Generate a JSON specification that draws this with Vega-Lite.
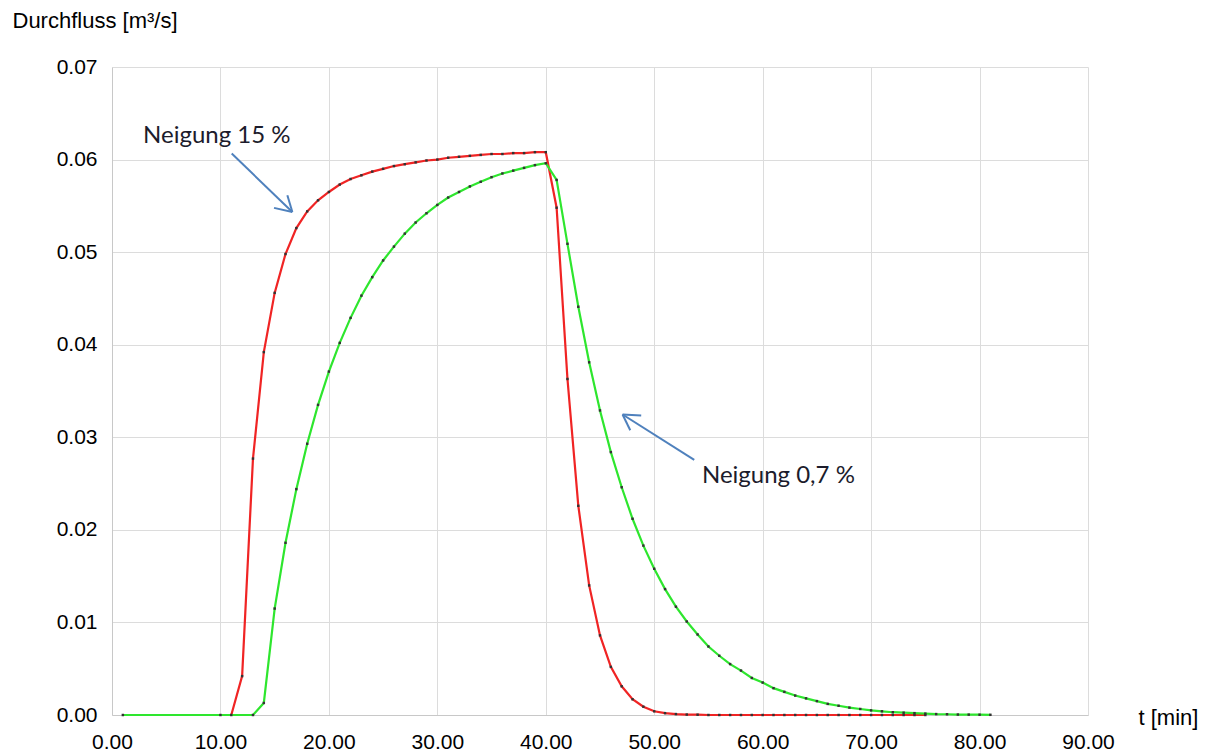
{
  "$schema": "https://vega.github.io/schema/vega-lite/v6.json",
  "width": 976,
  "height": 648,
  "autosize": {"type": "none"},
  "padding": {"left": 112, "top": 67, "right": 122, "bottom": 38},
  "background": "white",
  "config": {
    "view": {"stroke": null},
    "axis": {
      "labelFont": "Liberation Sans",
      "labelFontSize": 21,
      "labelColor": "#000000",
      "titleFont": "Liberation Sans",
      "titleFontSize": 22,
      "titleFontWeight": "normal",
      "titleColor": "#000000",
      "gridColor": "#dcdcdc",
      "gridWidth": 1,
      "domainColor": "#c8c8c8",
      "domainWidth": 1,
      "ticks": false,
      "tickSize": 0
    }
  },
  "datasets": {
    "flow": [
      {"s": "15", "t": 11, "q": 0},
      {"s": "15", "t": 12, "q": 0.0042},
      {"s": "15", "t": 13, "q": 0.0277},
      {"s": "15", "t": 14, "q": 0.0392},
      {"s": "15", "t": 15, "q": 0.0456},
      {"s": "15", "t": 16, "q": 0.0498},
      {"s": "15", "t": 17, "q": 0.0526},
      {"s": "15", "t": 18, "q": 0.0544},
      {"s": "15", "t": 19, "q": 0.0556},
      {"s": "15", "t": 20, "q": 0.0565},
      {"s": "15", "t": 21, "q": 0.0573},
      {"s": "15", "t": 22, "q": 0.0579},
      {"s": "15", "t": 23, "q": 0.0583},
      {"s": "15", "t": 24, "q": 0.0587},
      {"s": "15", "t": 25, "q": 0.0590},
      {"s": "15", "t": 26, "q": 0.0593},
      {"s": "15", "t": 27, "q": 0.0595},
      {"s": "15", "t": 28, "q": 0.0597},
      {"s": "15", "t": 29, "q": 0.0599},
      {"s": "15", "t": 30, "q": 0.0600},
      {"s": "15", "t": 31, "q": 0.0602},
      {"s": "15", "t": 32, "q": 0.0603},
      {"s": "15", "t": 33, "q": 0.0604},
      {"s": "15", "t": 34, "q": 0.0605},
      {"s": "15", "t": 35, "q": 0.0606},
      {"s": "15", "t": 36, "q": 0.0606},
      {"s": "15", "t": 37, "q": 0.0607},
      {"s": "15", "t": 38, "q": 0.0607},
      {"s": "15", "t": 39, "q": 0.0608},
      {"s": "15", "t": 40, "q": 0.0608},
      {"s": "15", "t": 41, "q": 0.0548},
      {"s": "15", "t": 42, "q": 0.0363},
      {"s": "15", "t": 43, "q": 0.0226},
      {"s": "15", "t": 44, "q": 0.0140},
      {"s": "15", "t": 45, "q": 0.0086},
      {"s": "15", "t": 46, "q": 0.0052},
      {"s": "15", "t": 47, "q": 0.0031},
      {"s": "15", "t": 48, "q": 0.0017},
      {"s": "15", "t": 49, "q": 0.0009},
      {"s": "15", "t": 50, "q": 0.0004},
      {"s": "15", "t": 51, "q": 0.0002},
      {"s": "15", "t": 52, "q": 0.0001},
      {"s": "15", "t": 53, "q": 0.00005},
      {"s": "15", "t": 54, "q": 0.00003},
      {"s": "15", "t": 55, "q": 0},
      {"s": "15", "t": 56, "q": 0},
      {"s": "15", "t": 57, "q": 0},
      {"s": "15", "t": 58, "q": 0},
      {"s": "15", "t": 59, "q": 0},
      {"s": "15", "t": 60, "q": 0},
      {"s": "15", "t": 61, "q": 0},
      {"s": "15", "t": 62, "q": 0},
      {"s": "15", "t": 63, "q": 0},
      {"s": "15", "t": 64, "q": 0},
      {"s": "15", "t": 65, "q": 0},
      {"s": "15", "t": 66, "q": 0},
      {"s": "15", "t": 67, "q": 0},
      {"s": "15", "t": 68, "q": 0},
      {"s": "15", "t": 69, "q": 0},
      {"s": "15", "t": 70, "q": 0},
      {"s": "15", "t": 71, "q": 0},
      {"s": "15", "t": 72, "q": 0},
      {"s": "15", "t": 73, "q": 0},
      {"s": "15", "t": 74, "q": 0},
      {"s": "15", "t": 75, "q": 0},
      {"s": "0.7", "t": 1, "q": 0},
      {"s": "0.7", "t": 10, "q": 0},
      {"s": "0.7", "t": 13, "q": 0},
      {"s": "0.7", "t": 14, "q": 0.0013},
      {"s": "0.7", "t": 15, "q": 0.0115},
      {"s": "0.7", "t": 16, "q": 0.0186},
      {"s": "0.7", "t": 17, "q": 0.0244},
      {"s": "0.7", "t": 18, "q": 0.0293},
      {"s": "0.7", "t": 19, "q": 0.0335},
      {"s": "0.7", "t": 20, "q": 0.0371},
      {"s": "0.7", "t": 21, "q": 0.0402},
      {"s": "0.7", "t": 22, "q": 0.0429},
      {"s": "0.7", "t": 23, "q": 0.0453},
      {"s": "0.7", "t": 24, "q": 0.0473},
      {"s": "0.7", "t": 25, "q": 0.0491},
      {"s": "0.7", "t": 26, "q": 0.0506},
      {"s": "0.7", "t": 27, "q": 0.0520},
      {"s": "0.7", "t": 28, "q": 0.0532},
      {"s": "0.7", "t": 29, "q": 0.0542},
      {"s": "0.7", "t": 30, "q": 0.0551},
      {"s": "0.7", "t": 31, "q": 0.0559},
      {"s": "0.7", "t": 32, "q": 0.0565},
      {"s": "0.7", "t": 33, "q": 0.0571},
      {"s": "0.7", "t": 34, "q": 0.0576},
      {"s": "0.7", "t": 35, "q": 0.0581},
      {"s": "0.7", "t": 36, "q": 0.0585},
      {"s": "0.7", "t": 37, "q": 0.0588},
      {"s": "0.7", "t": 38, "q": 0.0591},
      {"s": "0.7", "t": 39, "q": 0.0594},
      {"s": "0.7", "t": 40, "q": 0.0596},
      {"s": "0.7", "t": 41, "q": 0.0578},
      {"s": "0.7", "t": 42, "q": 0.0509},
      {"s": "0.7", "t": 43, "q": 0.0441},
      {"s": "0.7", "t": 44, "q": 0.0381},
      {"s": "0.7", "t": 45, "q": 0.0329},
      {"s": "0.7", "t": 46, "q": 0.0284},
      {"s": "0.7", "t": 47, "q": 0.0246},
      {"s": "0.7", "t": 48, "q": 0.0212},
      {"s": "0.7", "t": 49, "q": 0.0183},
      {"s": "0.7", "t": 50, "q": 0.0158},
      {"s": "0.7", "t": 51, "q": 0.0136},
      {"s": "0.7", "t": 52, "q": 0.0117},
      {"s": "0.7", "t": 53, "q": 0.0101},
      {"s": "0.7", "t": 54, "q": 0.0087},
      {"s": "0.7", "t": 55, "q": 0.0074},
      {"s": "0.7", "t": 56, "q": 0.0064},
      {"s": "0.7", "t": 57, "q": 0.0055},
      {"s": "0.7", "t": 58, "q": 0.0048},
      {"s": "0.7", "t": 59, "q": 0.0040},
      {"s": "0.7", "t": 60, "q": 0.0035},
      {"s": "0.7", "t": 61, "q": 0.0029},
      {"s": "0.7", "t": 62, "q": 0.0025},
      {"s": "0.7", "t": 63, "q": 0.0021},
      {"s": "0.7", "t": 64, "q": 0.0018},
      {"s": "0.7", "t": 65, "q": 0.0015},
      {"s": "0.7", "t": 66, "q": 0.0012},
      {"s": "0.7", "t": 67, "q": 0.0010},
      {"s": "0.7", "t": 68, "q": 0.0008},
      {"s": "0.7", "t": 69, "q": 0.00065},
      {"s": "0.7", "t": 70, "q": 0.0005},
      {"s": "0.7", "t": 71, "q": 0.0004},
      {"s": "0.7", "t": 72, "q": 0.0003},
      {"s": "0.7", "t": 73, "q": 0.00025},
      {"s": "0.7", "t": 74, "q": 0.0002},
      {"s": "0.7", "t": 75, "q": 0.00015},
      {"s": "0.7", "t": 76, "q": 0.0001},
      {"s": "0.7", "t": 77, "q": 0.00008},
      {"s": "0.7", "t": 78, "q": 0.00005},
      {"s": "0.7", "t": 79, "q": 0.00004},
      {"s": "0.7", "t": 80, "q": 0.00003},
      {"s": "0.7", "t": 81, "q": 0.00002}
    ],
    "arrows": [
      {"t": 11.04, "q": 0.06065, "t2": 16.63, "q2": 0.05433},
      {"t": 16.63, "q": 0.05433, "t2": 16.17, "q2": 0.05614},
      {"t": 16.63, "q": 0.05433, "t2": 14.94, "q2": 0.05478},
      {"t": 53.69, "q": 0.02755, "t2": 47.08, "q2": 0.03246},
      {"t": 47.08, "q": 0.03246, "t2": 48.80, "q2": 0.03235},
      {"t": 47.08, "q": 0.03246, "t2": 47.79, "q2": 0.03076}
    ],
    "labels": [
      {"t": 2.86, "q": 0.06177, "text": "Neigung 15 %"},
      {"t": 54.40, "q": 0.02505, "text": "Neigung 0,7 %"}
    ]
  },
  "layer": [
    {
      "data": {"name": "flow"},
      "transform": [{"filter": "datum.s === '15'"}],
      "mark": {"type": "line", "color": "#f02424", "strokeWidth": 2.2},
      "encoding": {
        "x": {
          "field": "t", "type": "quantitative",
          "scale": {"domain": [0, 90], "nice": false, "zero": false},
          "axis": {
            "values": [0, 10, 20, 30, 40, 50, 60, 70, 80, 90],
            "format": ".2f",
            "labelPadding": 16,
            "labelFlush": false,
            "title": "t [min]",
            "titleAlign": "left",
            "titleBaseline": "alphabetic",
            "titleAnchor": "start",
            "titleX": 1026,
            "titleY": 9
          }
        },
        "y": {
          "field": "q", "type": "quantitative",
          "scale": {"domain": [0, 0.07], "nice": false},
          "axis": {
            "values": [0, 0.01, 0.02, 0.03, 0.04, 0.05, 0.06, 0.07],
            "format": ".2f",
            "labelPadding": 15,
            "labelFlush": false,
            "title": "Durchfluss [m³/s]",
            "titleAngle": 0,
            "titleAlign": "left",
            "titleBaseline": "alphabetic",
            "titleAnchor": "start",
            "titleX": -100,
            "titleY": -40
          }
        },
        "order": {"field": "t", "type": "quantitative"}
      }
    },
    {
      "data": {"name": "flow"},
      "transform": [{"filter": "datum.s === '0.7'"}],
      "mark": {"type": "line", "color": "#2ee62e", "strokeWidth": 2.2},
      "encoding": {
        "x": {"field": "t", "type": "quantitative"},
        "y": {"field": "q", "type": "quantitative"},
        "order": {"field": "t", "type": "quantitative"}
      }
    },
    {
      "data": {"name": "flow"},
      "mark": {"type": "point", "shape": "square", "filled": true, "color": "#333333", "size": 6, "opacity": 1},
      "encoding": {
        "x": {"field": "t", "type": "quantitative"},
        "y": {"field": "q", "type": "quantitative"}
      }
    },
    {
      "data": {"name": "arrows"},
      "mark": {"type": "rule", "color": "#4f81bd", "strokeWidth": 2},
      "encoding": {
        "x": {"field": "t", "type": "quantitative"},
        "y": {"field": "q", "type": "quantitative"},
        "x2": {"field": "t2"},
        "y2": {"field": "q2"}
      }
    },
    {
      "data": {"name": "labels"},
      "mark": {"type": "text", "font": "Lato", "fontSize": 24, "color": "#1c1c2c", "align": "left", "baseline": "alphabetic"},
      "encoding": {
        "x": {"field": "t", "type": "quantitative"},
        "y": {"field": "q", "type": "quantitative"},
        "text": {"field": "text"}
      }
    }
  ]
}
